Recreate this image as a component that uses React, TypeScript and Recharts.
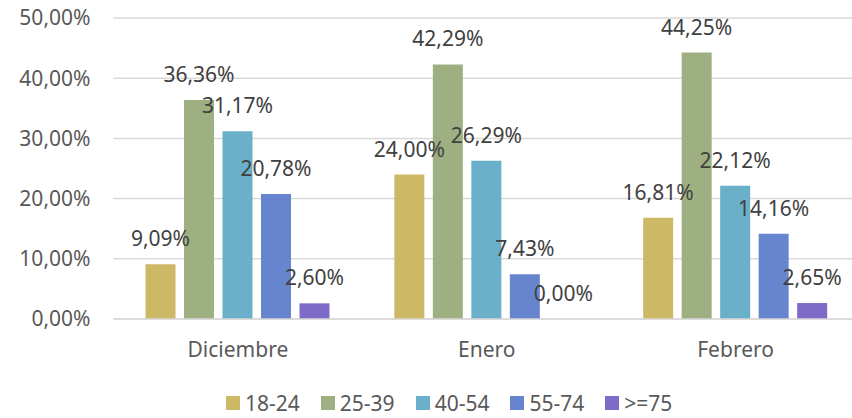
import React from 'react';
import { BarChart, Bar, XAxis, YAxis, CartesianGrid, Legend, LabelList } from 'recharts';

const categories = ['Diciembre', 'Enero', 'Febrero'];
const seriesNames = ['18-24', '25-39', '40-54', '55-74', '>=75'];
const s1824 = [9.09, 24.0, 16.81];
const s2539 = [36.36, 42.29, 44.25];
const s4054 = [31.17, 26.29, 22.12];
const s5574 = [20.78, 7.43, 14.16];
const s75 = [2.6, 0.0, 2.65];
const yTicks = [0, 10, 20, 30, 40, 50];

const colors = ['#CDB866', '#9EB082', '#6AB0CB', '#6685CE', '#7E6BC8'];
const seriesValues = [s1824, s2539, s4054, s5574, s75];

const data = categories.map((c, i) => {
  const row: any = { name: c };
  seriesNames.forEach((s, j) => {
    row[s] = seriesValues[j][i];
  });
  return row;
});

const fmt = (v: number) => v.toFixed(2).replace('.', ',') + '%';
const FONT = '"Noto Sans", sans-serif';

const LegendContent = () => (
  <div style={{ display: 'flex', alignItems: 'center', height: 30, paddingLeft: 226, fontFamily: FONT, fontSize: 21, color: '#595959' }}>
    {seriesNames.map((s, i) => (
      <div key={s} style={{ display: 'flex', alignItems: 'center', marginRight: 21 }}>
        <span style={{ display: 'inline-block', width: 14, height: 14, background: colors[i], marginRight: 5 }} />
        <span style={{ lineHeight: '30px' }}>{s}</span>
      </div>
    ))}
  </div>
);

const tinyForZero = (v: any) => (Number(v) === 0 ? 0.01 : 0);

export default function App() {
  return (
    <div style={{ position: 'absolute', left: 0, top: 0, width: 852, height: 418, overflow: 'hidden', background: '#fff' }}>
      <BarChart
        width={870}
        height={418}
        data={data}
        margin={{ top: 18, right: 10, bottom: 0, left: 0 }}
        barSize={30}
        barGap={8.5}
      >
        <CartesianGrid vertical={false} stroke="#D9D9D9" strokeWidth={1.5} />
        <XAxis
          dataKey="name"
          height={69}
          tickLine={false}
          axisLine={{ stroke: '#D9D9D9', strokeWidth: 1.5 }}
          tickMargin={17}
          tick={{ fill: '#595959', fontSize: 21, fontFamily: FONT }}
        />
        <YAxis
          width={113.5}
          domain={[0, 50]}
          ticks={yTicks}
          tickFormatter={fmt}
          tickLine={false}
          axisLine={false}
          tickMargin={17}
          tick={{ fill: '#595959', fontSize: 21, fontFamily: FONT }}
        />
        <Legend verticalAlign="bottom" wrapperStyle={{ left: 0, width: 870 }} content={<LegendContent />} />
        {seriesNames.map((s, i) => (
          <Bar key={s} dataKey={s} fill={colors[i]} isAnimationActive={false} minPointSize={tinyForZero}>
            <LabelList
              dataKey={s}
              position="top"
              offset={18}
              formatter={(v: any) => fmt(Number(v))}
              style={{ fill: '#404040', fontSize: 21, fontFamily: FONT }}
            />
          </Bar>
        ))}
      </BarChart>
    </div>
  );
}
